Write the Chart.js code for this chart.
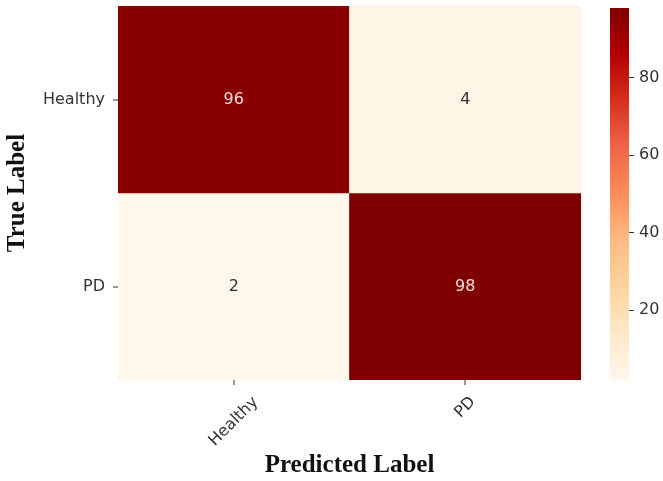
<!DOCTYPE html>
<html><head><meta charset="utf-8">
<script src="https://cdn.jsdelivr.net/npm/chart.js@4.4.1/dist/chart.umd.min.js"></script>
<style>
html,body{margin:0;padding:0;background:#fff;}
#wrap{position:relative;width:663px;height:481px;background:#fff;}
#main{position:absolute;left:0;top:0;}
#cbar{position:absolute;left:598px;top:0;}
</style></head><body>
<div id="wrap"><canvas id="main" width="663" height="481"></canvas><canvas id="cbar" width="65" height="481"></canvas></div>
<script>
// ---- data ----
const trueLabels = ['Healthy', 'PD'];
const predLabels = ['Healthy', 'PD'];
const rowHealthy = [96, 4];
const rowPD = [2, 98];
const matrix = [rowHealthy, rowPD];
const yTickPos = [0.5, 1.5];
const cbTicks = [20, 40, 60, 80];
const vmin = 2, vmax = 98;

// ---- style ----
const orrd = ['#fff7ec','#fee8c8','#fdd49e','#fdbb84','#fc8d59','#ef6548','#d7301f','#b30000','#7f0000'];
const tickFont = {family: 'DejaVu Sans', size: 16};
const titleFont = {family: 'Liberation Serif', size: 25, weight: 'bold'};
const tickColor = '#333';
const gridColor = 'rgba(170,140,120,0.2)';

function hex2rgb(h){return [parseInt(h.slice(1,3),16),parseInt(h.slice(3,5),16),parseInt(h.slice(5,7),16)];}
function colorFor(v){
  let t = (v - vmin) / (vmax - vmin); t = Math.max(0, Math.min(1, t));
  const pos = t * (orrd.length - 1); const i = Math.min(Math.floor(pos), orrd.length - 2); const f = pos - i;
  const a = hex2rgb(orrd[i]), b = hex2rgb(orrd[i+1]);
  return 'rgb(' + a.map((c,k)=>Math.round(c + (b[k]-c)*f)).join(',') + ')';
}

const annotPlugin = {
  id: 'annot',
  afterDatasetsDraw(chart){
    const {ctx} = chart; const xs = chart.scales.x, ys = chart.scales.y;
    ctx.save();
    ctx.font = '16px "DejaVu Sans"'; ctx.textAlign = 'center'; ctx.textBaseline = 'middle';
    matrix.forEach((row, i) => row.forEach((v, j) => {
      const t = (v - vmin) / (vmax - vmin);
      ctx.fillStyle = t > 0.5 ? '#f3dede' : '#333333';
      ctx.fillText(String(v), xs.getPixelForValue(j), ys.getPixelForValue(yTickPos[i]));
    }));
    ctx.restore();
  }
};

const xLabelPlugin = {
  id: 'xlabels',
  afterDraw(chart){
    const {ctx} = chart; const xs = chart.scales.x;
    ctx.save();
    ctx.font = '16px "DejaVu Sans"'; ctx.fillStyle = tickColor; ctx.textAlign = 'center'; ctx.textBaseline = 'middle';
    xs.ticks.forEach((t, i) => {
      const label = xs.getLabelForValue(t.value);
      const x = xs.getPixelForTick(i);
      const w = ctx.measureText(label).width, h = 16;
      const top = chart.chartArea.bottom + 5 + 9;
      const cy = top + (w + h) * Math.SQRT1_2 / 2;
      ctx.save(); ctx.translate(x, cy); ctx.rotate(-Math.PI / 4); ctx.fillText(label, 0, 0); ctx.restore();
    });
    ctx.restore();
  }
};

new Chart(document.getElementById('main'), {
  type: 'bar',
  data: {
    labels: predLabels,
    datasets: matrix.map((row, i) => ({
      data: row.map(() => [i, i + 1]),
      backgroundColor: row.map(colorFor),
      borderWidth: 0, barPercentage: 1, categoryPercentage: 1, grouped: false
    }))
  },
  options: {
    responsive: false, animation: false, devicePixelRatio: 1,
    layout: {padding: {top: 6, right: 82, left: 0, bottom: 0}},
    plugins: {legend: {display: false}, tooltip: {enabled: false}},
    scales: {
      x: {
        z: 1,
        grid: {offset: false, color: gridColor, lineWidth: 2, drawTicks: true, tickLength: 5, tickColor: tickColor, tickWidth: 1},
        border: {display: false},
        ticks: {display: false},
        title: {display: true, text: 'Predicted Label', font: titleFont, color: '#111', padding: {top: 0, bottom: 0}},
        afterFit: s => { s.height = 101; s.paddingLeft = 0; s.paddingRight = 0; }
      },
      y: {
        type: 'linear', min: 0, max: 2, reverse: true, z: 1,
        afterBuildTicks: s => { s.ticks = yTickPos.map(v => ({value: v})); },
        ticks: {callback: (v, i) => trueLabels[i], font: tickFont, color: tickColor, padding: 8},
        grid: {color: gridColor, lineWidth: 2, drawTicks: true, tickLength: 5, tickColor: tickColor, tickWidth: 1},
        border: {display: false},
        title: {display: true, text: 'True Label', font: titleFont, color: '#111', padding: {top: 3, bottom: 0}},
        afterFit: s => { s.width = 118; s.paddingTop = 0; s.paddingBottom = 0; }
      }
    }
  },
  plugins: [annotPlugin, xLabelPlugin]
});

function cbGradient(chart){
  const ca = chart.chartArea; if (!ca) return orrd[4];
  const ys = chart.scales.y;
  const g = chart.ctx.createLinearGradient(0, ys.getPixelForValue(vmin), 0, ys.getPixelForValue(vmax));
  orrd.forEach((c, i) => g.addColorStop(i / (orrd.length - 1), c));
  return g;
}

new Chart(document.getElementById('cbar'), {
  type: 'bar',
  data: {labels: ['scale'], datasets: [{data: [[vmin, vmax]], backgroundColor: c => cbGradient(c.chart), borderWidth: 0, barPercentage: 1, categoryPercentage: 1}]},
  options: {
    responsive: false, animation: false, devicePixelRatio: 1,
    layout: {padding: {left: 12, top: 8, bottom: 101, right: 0}},
    plugins: {legend: {display: false}, tooltip: {enabled: false}},
    scales: {
      x: {display: false},
      y: {
        position: 'right', min: vmin, max: vmax,
        afterBuildTicks: s => { s.ticks = cbTicks.map(v => ({value: v})); },
        ticks: {font: tickFont, color: tickColor, padding: 5},
        grid: {drawOnChartArea: false, drawTicks: true, tickLength: 5, tickColor: tickColor},
        border: {display: false},
        afterFit: s => { s.width = 34; s.paddingTop = 0; s.paddingBottom = 0; }
      }
    }
  }
});
</script>
</body></html>
